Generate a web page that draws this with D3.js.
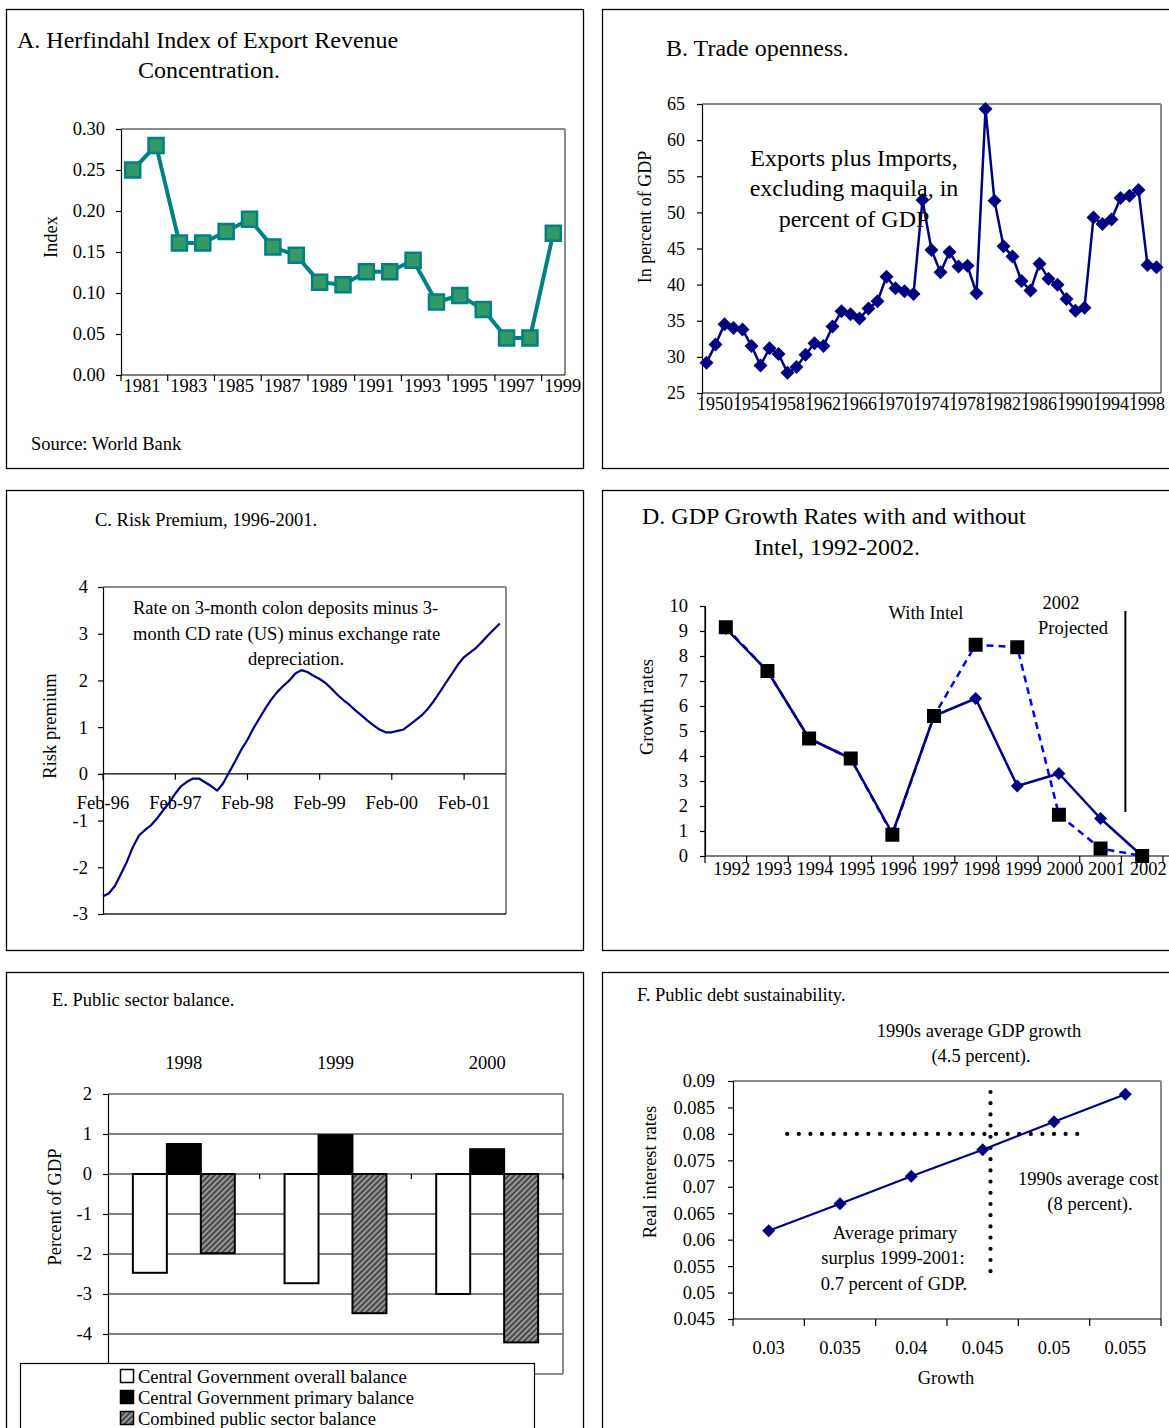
<!DOCTYPE html>
<html>
<head>
<meta charset="utf-8">
<script src="https://cdn.jsdelivr.net/npm/d3@7"></script>
<style>
  body { margin: 0; background: #fff; }
  svg { display: block; font-family: "Liberation Serif", "Times New Roman", serif; }
</style>
</head>
<body>
<svg id="chart" width="1169" height="1428"></svg>
<script>
// ---------------- Data ----------------
// A. Herfindahl index of export revenue concentration
const herfYears = d3.range(1981, 2000).map(String);
const herfIndex = [0.250, 0.280, 0.161, 0.161, 0.175, 0.190, 0.156, 0.146, 0.113, 0.110,
                   0.126, 0.126, 0.140, 0.089, 0.097, 0.080, 0.045, 0.045, 0.173];
const herfTicks = [0, 0.05, 0.10, 0.15, 0.20, 0.25, 0.30];

// B. Trade openness (exports plus imports, excl. maquila, % of GDP)
const openYears = d3.range(1950, 2001).map(String);
const openness = [29.2, 31.7, 34.5, 34.0, 33.8, 31.5, 28.8, 31.2, 30.4, 27.8,
                  28.6, 30.3, 31.9, 31.5, 34.2, 36.3, 35.9, 35.3, 36.7, 37.7,
                  41.1, 39.5, 39.1, 38.7, 51.7, 44.8, 41.7, 44.5, 42.5, 42.6,
                  38.8, 64.3, 51.6, 45.3, 43.9, 40.5, 39.2, 42.9, 40.8, 40.0,
                  38.0, 36.4, 36.8, 49.3, 48.4, 49.0, 52.0, 52.3, 53.1, 42.7, 42.4];
const opennessTicks = [25, 30, 35, 40, 45, 50, 55, 60, 65];
const openLabelYears = d3.range(1950, 2000, 4).map(String);

// C. Risk premium, monthly Feb-96 .. Aug-01
const riskMonths = d3.timeMonth.range(new Date(1996, 1, 1), new Date(2001, 8, 1));
const riskPremium = [-2.62, -2.56, -2.40, -2.15, -1.88, -1.57, -1.32, -1.20, -1.10, -0.95,
                     -0.78, -0.62, -0.42, -0.27, -0.17, -0.10, -0.10, -0.18, -0.26, -0.36,
                     -0.20, 0.04, 0.27, 0.52, 0.73, 0.96, 1.18, 1.39, 1.59, 1.75,
                     1.88, 2.00, 2.15, 2.22, 2.18, 2.10, 2.03, 1.95, 1.83, 1.70,
                     1.58, 1.48, 1.36, 1.25, 1.14, 1.04, 0.95, 0.89, 0.89, 0.92,
                     0.95, 1.05, 1.15, 1.25, 1.39, 1.56, 1.75, 1.95, 2.14, 2.34,
                     2.50, 2.59, 2.69, 2.82, 2.96, 3.09, 3.22];
const riskTicks = [-3, -2, -1, 0, 1, 2, 3, 4];
const riskTickDates = d3.range(1996, 2002).map(yr => new Date(yr, 1, 1));

// D. GDP growth with and without Intel
const growthYears = d3.range(1992, 2003).map(String);
const growthWithoutIntel = [9.1, 7.4, 4.7, 3.9, 0.9, 5.6, 6.3, 2.8, 3.3, 1.5, 0.0];
const growthWithIntel = [9.15, 7.4, 4.7, 3.9, 0.85, 5.6, 8.45, 8.35, 1.65, 0.3, 0.0];
const growthTicks = d3.range(0, 11);

// E. Public sector balance
const balanceYears = ["1998", "1999", "2000"];
const balanceSeries = ["Central Government overall balance",
                       "Central Government primary balance",
                       "Combined public sector balance"];
const overallBalance = [-2.47, -2.73, -3.00];
const primaryBalance = [0.75, 0.97, 0.62];
const combinedBalance = [-1.98, -3.48, -4.21];
const balanceTicks = [-4, -3, -2, -1, 0, 1, 2];

// F. Public debt sustainability
const growthCats = ["0.03", "0.035", "0.04", "0.045", "0.05", "0.055"];
const realRates = [0.0617, 0.0668, 0.0720, 0.0770, 0.0823, 0.0875];
const rateTicks = [0.045, 0.05, 0.055, 0.06, 0.065, 0.07, 0.075, 0.08, 0.085, 0.09];
const avgCost = 0.08;
const avgGrowthCat = "0.045";

// ---------------- Helpers ----------------
const svg = d3.select("#chart");
const SM = 18.5, LG = 24;
const NAVY = "#000080", TEAL = "#008080", GREY = "#8a8a8a";
const fmtPlain = v => String(v);

function panelFrame(x, y, w, h) {
  svg.append("rect").attr("x", x + 0.5).attr("y", y + 0.5).attr("width", w).attr("height", h)
    .attr("fill", "none").attr("stroke", "#000").attr("stroke-width", 1.3);
}
function label(g, x, y, str, size, anchor = "start") {
  return g.append("text").attr("x", x).attr("y", y).attr("font-size", size)
    .attr("text-anchor", anchor).attr("fill", "#000").text(str);
}
function vLabel(g, x, cy, str, size) {
  return g.append("text").attr("transform", `translate(${x},${cy}) rotate(-90)`)
    .attr("text-anchor", "middle").attr("font-size", size).attr("fill", "#000").text(str);
}
function greyBorder(g, x0, x1, y0, y1, sides) {
  const segs = [];
  if (sides.includes("top")) segs.push([x0, y0, x1, y0]);
  if (sides.includes("right")) segs.push([x1, y0, x1, y1]);
  if (sides.includes("bottom")) segs.push([x0, y1, x1, y1]);
  segs.forEach(s => g.append("line").attr("x1", s[0]).attr("y1", s[1]).attr("x2", s[2]).attr("y2", s[3])
    .attr("stroke", GREY).attr("stroke-width", 2));
}
function yAxis(g, x, scale, ticks, fmt, pad, size) {
  const ax = g.append("g").attr("transform", `translate(${x},0)`)
    .call(d3.axisLeft(scale).tickValues(ticks).tickFormat(fmt).tickSize(5).tickPadding(pad).tickSizeOuter(0));
  ax.attr("font-family", null).attr("font-size", size);
  ax.selectAll("path,line").attr("stroke", "#000").attr("stroke-width", 1.2);
  ax.selectAll("text").attr("fill", "#000");
  return ax;
}
function hLine(g, x0, x1, y, color = "#000", w = 1.2) {
  g.append("line").attr("x1", x0).attr("x2", x1).attr("y1", y).attr("y2", y).attr("stroke", color).attr("stroke-width", w);
}
function vLine(g, x, y0, y1, color = "#000", w = 1.2) {
  g.append("line").attr("x1", x).attr("x2", x).attr("y1", y0).attr("y2", y1).attr("stroke", color).attr("stroke-width", w);
}
const diamond = r => `M0,${-r}L${r},0L0,${r}L${-r},0Z`;
const square = r => `M${-r},${-r}H${r}V${r}H${-r}Z`;

const defs = svg.append("defs");
const hatch = defs.append("pattern").attr("id", "hatch").attr("patternUnits", "userSpaceOnUse")
  .attr("width", 4).attr("height", 4).attr("patternTransform", "rotate(45)");
hatch.append("rect").attr("width", 4).attr("height", 4).attr("fill", "#4a4a4a");
hatch.append("rect").attr("width", 1.6).attr("height", 4).attr("fill", "#a8a8a8");

// ---------------- Panel frames ----------------
panelFrame(6, 9, 577, 459);
panelFrame(602, 9, 620, 459);
panelFrame(6, 490, 577, 460);
panelFrame(602, 490, 620, 460);
panelFrame(6, 972, 577, 520);
panelFrame(602, 972, 620, 520);

// ---------------- A ----------------
{
  const g = svg.append("g");
  const x = d3.scaleBand().domain(herfYears).range([121, 565]);
  const y = d3.scaleLinear().domain([0, 0.30]).range([375, 129]);
  greyBorder(g, 121, 565, 129, 375, ["top", "right"]);
  yAxis(g, 121, y, herfTicks, d3.format(".2f"), 11, SM);
  hLine(g, 121, 565, 375);
  herfYears.forEach((yr, i) => {
    if (i % 2 === 0) {
      vLine(g, x(yr), 375, 381);
      label(g, x(yr) + x.bandwidth() * 0.9, 392, yr, SM, "middle");
    }
  });
  const pts = herfYears.map((yr, i) => [x(yr) + x.bandwidth() / 2, y(herfIndex[i])]);
  g.append("path").attr("d", d3.line()(pts)).attr("fill", "none").attr("stroke", TEAL)
    .attr("stroke-width", 4).attr("stroke-linejoin", "round");
  g.selectAll(".m").data(pts).join("path").attr("transform", d => `translate(${d[0]},${d[1]})`)
    .attr("d", square(7.5)).attr("fill", "#339966").attr("stroke", TEAL).attr("stroke-width", 2.5);
  label(g, 17, 48, "A. Herfindahl Index of Export Revenue", LG);
  label(g, 209, 78, "Concentration.", LG, "middle");
  vLabel(g, 57, 237, "Index", SM);
  label(g, 31, 450, "Source: World Bank", SM);
}

// ---------------- B ----------------
{
  const g = svg.append("g");
  const x = d3.scaleBand().domain(openYears).range([702, 1161]);
  const y = d3.scaleLinear().domain([25, 65]).range([393, 104]);
  greyBorder(g, 702, 1161, 104, 393, ["top", "right"]);
  yAxis(g, 702, y, opennessTicks, fmtPlain, 12, 18);
  hLine(g, 702, 1161, 393);
  openYears.forEach((yr, i) => {
    if (i % 4 === 0) vLine(g, x(yr), 393, 399);
  });
  openLabelYears.forEach(yr => label(g, x(yr) + 13, 410, yr, 18, "middle"));
  const pts = openYears.map((yr, i) => [x(yr) + x.bandwidth() / 2, y(openness[i])]);
  g.append("path").attr("d", d3.line()(pts)).attr("fill", "none").attr("stroke", NAVY)
    .attr("stroke-width", 2.5).attr("stroke-linejoin", "round");
  g.selectAll(".m").data(pts).join("path").attr("transform", d => `translate(${d[0]},${d[1]})`)
    .attr("d", diamond(7)).attr("fill", NAVY);
  label(g, 666, 56, "B. Trade openness.", LG);
  label(g, 854, 166, "Exports plus Imports,", LG, "middle");
  label(g, 854, 196, "excluding maquila, in", LG, "middle");
  label(g, 854, 227, "percent of GDP", LG, "middle");
  vLabel(g, 651, 217, "In percent of GDP", 18);
}

// ---------------- C ----------------
{
  const g = svg.append("g");
  const x = d3.scaleTime().domain([new Date(1996, 1, 1), new Date(2001, 8, 1)]).range([103, 506]);
  const y = d3.scaleLinear().domain([-3, 4]).range([914, 587]);
  greyBorder(g, 103, 506, 587, 914, ["top", "right"]);
  hLine(g, 103, 506, 914, "#222", 1.4);
  yAxis(g, 103, y, riskTicks, fmtPlain, 10, SM);
  hLine(g, 103, 506, y(0));
  riskTickDates.forEach(dt => {
    vLine(g, x(dt), y(0), y(0) + 6);
    label(g, x(dt), 809, d3.timeFormat("%b-%y")(dt), SM, "middle");
  });
  const line = d3.line().x((d, i) => x(riskMonths[i])).y(d => y(d));
  g.append("path").attr("d", line(riskPremium)).attr("fill", "none").attr("stroke", NAVY)
    .attr("stroke-width", 2.2).attr("stroke-linejoin", "round");
  label(g, 95, 526, "C. Risk Premium, 1996-2001.", SM);
  label(g, 133, 614, "Rate on 3-month colon deposits minus 3-", SM);
  label(g, 133, 640, "month CD rate (US) minus exchange rate", SM);
  label(g, 296, 665, "depreciation.", SM, "middle");
  vLabel(g, 56, 726, "Risk premium", SM);
}

// ---------------- D ----------------
{
  const g = svg.append("g");
  const x = d3.scaleBand().domain(growthYears).range([705, 1163]);
  const y = d3.scaleLinear().domain([0, 10]).range([856, 606]);
  yAxis(g, 705, y, growthTicks, fmtPlain, 12, SM);
  vLine(g, 705, 606, 863);
  hLine(g, 705, 1175, 856);
  growthYears.forEach(yr => {
    vLine(g, x(yr) + x.bandwidth(), 856, 863);
    label(g, x(yr) + x.bandwidth() / 2 + 6, 875, yr, SM, "middle");
  });
  const cx = yr => x(yr) + x.bandwidth() / 2;
  const withPts = growthYears.map((yr, i) => [cx(yr), y(growthWithIntel[i])]);
  const woPts = growthYears.map((yr, i) => [cx(yr), y(growthWithoutIntel[i])]);
  g.append("path").attr("d", d3.line()(withPts)).attr("fill", "none").attr("stroke", "#0000ff")
    .attr("stroke-width", 2.5).attr("stroke-dasharray", "7,5");
  g.append("path").attr("d", d3.line()(woPts)).attr("fill", "none").attr("stroke", NAVY)
    .attr("stroke-width", 2.5).attr("stroke-linejoin", "round");
  g.selectAll(".dm").data(woPts).join("path").attr("transform", d => `translate(${d[0]},${d[1]})`)
    .attr("d", diamond(6.5)).attr("fill", NAVY);
  g.selectAll(".sq").data(withPts).join("path").attr("transform", d => `translate(${d[0]},${d[1]})`)
    .attr("d", square(7)).attr("fill", "#000");
  vLine(g, x("2002") + 4, 611, 812, "#000", 2);
  label(g, 642, 524, "D. GDP Growth Rates with and without", LG);
  label(g, 837, 555, "Intel, 1992-2002.", LG, "middle");
  label(g, 926, 619, "With Intel", SM, "middle");
  label(g, 1061, 609, "2002", SM, "middle");
  label(g, 1073, 634, "Projected", SM, "middle");
  vLabel(g, 653, 707, "Growth rates", SM);
}

// ---------------- E ----------------
{
  const g = svg.append("g");
  const x0 = d3.scaleBand().domain(balanceYears).range([108, 563]);
  const y = d3.scaleLinear().domain([-5, 2]).range([1374, 1094]);
  const barW = x0.bandwidth() * 0.224;
  const x1 = d3.scaleBand().domain(balanceSeries).range([0, barW * 3]);
  const groupOff = (x0.bandwidth() - barW * 3) / 2;
  [-4, -3, -2, -1, 1].forEach(v => hLine(g, 108, 563, y(v)));
  greyBorder(g, 108, 563, 1094, 1374, ["top", "right", "bottom"]);
  yAxis(g, 108, y, balanceTicks, fmtPlain, 11, SM);
  const seriesVals = [overallBalance, primaryBalance, combinedBalance];
  const fills = ["#ffffff", "#000000", "url(#hatch)"];
  balanceYears.forEach((yr, i) => {
    seriesVals.forEach((vals, s) => {
      const v = vals[i];
      g.append("rect")
        .attr("x", x0(yr) + groupOff + x1(balanceSeries[s]))
        .attr("y", y(Math.max(0, v)))
        .attr("width", x1.bandwidth())
        .attr("height", Math.abs(y(v) - y(0)))
        .attr("fill", fills[s]).attr("stroke", "#000").attr("stroke-width", 2);
    });
    label(g, x0(yr) + x0.bandwidth() / 2, 1069, yr, SM, "middle");
  });
  hLine(g, 108, 563, y(0));
  balanceYears.forEach(yr => vLine(g, x0(yr) + x0.bandwidth(), y(0), y(0) + 5));
  label(g, 52, 1006, "E. Public sector balance.", SM);
  vLabel(g, 61, 1207, "Percent of GDP", SM);
  // legend
  g.append("rect").attr("x", 20.5).attr("y", 1363.5).attr("width", 514).attr("height", 80)
    .attr("fill", "#fff").attr("stroke", "#000").attr("stroke-width", 1.2);
  balanceSeries.forEach((name, s) => {
    const by = 1383 + s * 21;
    g.append("rect").attr("x", 120.5).attr("y", by - 13.5).attr("width", 13).attr("height", 13)
      .attr("fill", fills[s]).attr("stroke", "#000").attr("stroke-width", 1.5);
    label(g, 138, by, name, SM);
  });
}

// ---------------- F ----------------
{
  const g = svg.append("g");
  const x = d3.scaleBand().domain(growthCats).range([733, 1161]);
  const y = d3.scaleLinear().domain([0.045, 0.09]).range([1319, 1081]);
  greyBorder(g, 733, 1161, 1081, 1319, ["top", "right"]);
  yAxis(g, 733, y, rateTicks, fmtPlain, 13, SM);
  hLine(g, 733, 1161, 1319);
  vLine(g, 733, 1319, 1326);
  growthCats.forEach(c => {
    vLine(g, x(c) + x.bandwidth(), 1319, 1326);
    label(g, x(c) + x.bandwidth() / 2, 1354, c, SM, "middle");
  });
  const cx = c => x(c) + x.bandwidth() / 2;
  const step = x.step();
  // dotted guides: 1990s average cost and average growth
  g.append("line").attr("x1", cx("0.03") + 0.26 * step).attr("x2", cx("0.05") + 0.34 * step)
    .attr("y1", y(avgCost)).attr("y2", y(avgCost))
    .attr("stroke", "#000").attr("stroke-width", 4.2).attr("stroke-linecap", "round").attr("stroke-dasharray", "0,11.6");
  g.append("line").attr("x1", cx(avgGrowthCat) + 0.11 * step).attr("x2", cx(avgGrowthCat) + 0.11 * step)
    .attr("y1", 1092).attr("y2", 1272)
    .attr("stroke", "#000").attr("stroke-width", 4.2).attr("stroke-linecap", "round").attr("stroke-dasharray", "0,11.2");
  const pts = growthCats.map((c, i) => [cx(c), y(realRates[i])]);
  g.append("path").attr("d", d3.line()(pts)).attr("fill", "none").attr("stroke", NAVY).attr("stroke-width", 2.2);
  g.selectAll(".dm").data(pts).join("path").attr("transform", d => `translate(${d[0]},${d[1]})`)
    .attr("d", diamond(6.5)).attr("fill", NAVY);
  label(g, 637, 1001, "F. Public debt sustainability.", SM);
  label(g, 979, 1037, "1990s average GDP growth", SM, "middle");
  label(g, 981, 1062, "(4.5 percent).", SM, "middle");
  label(g, 1018, 1185, "1990s average cost", SM);
  label(g, 1090, 1210, "(8 percent).", SM, "middle");
  label(g, 895, 1239, "Average primary", SM, "middle");
  label(g, 893, 1264, "surplus 1999-2001:", SM, "middle");
  label(g, 894, 1290, "0.7 percent of GDP.", SM, "middle");
  label(g, 946, 1384, "Growth", SM, "middle");
  vLabel(g, 656, 1172, "Real interest rates", SM);
}
</script>
</body>
</html>
